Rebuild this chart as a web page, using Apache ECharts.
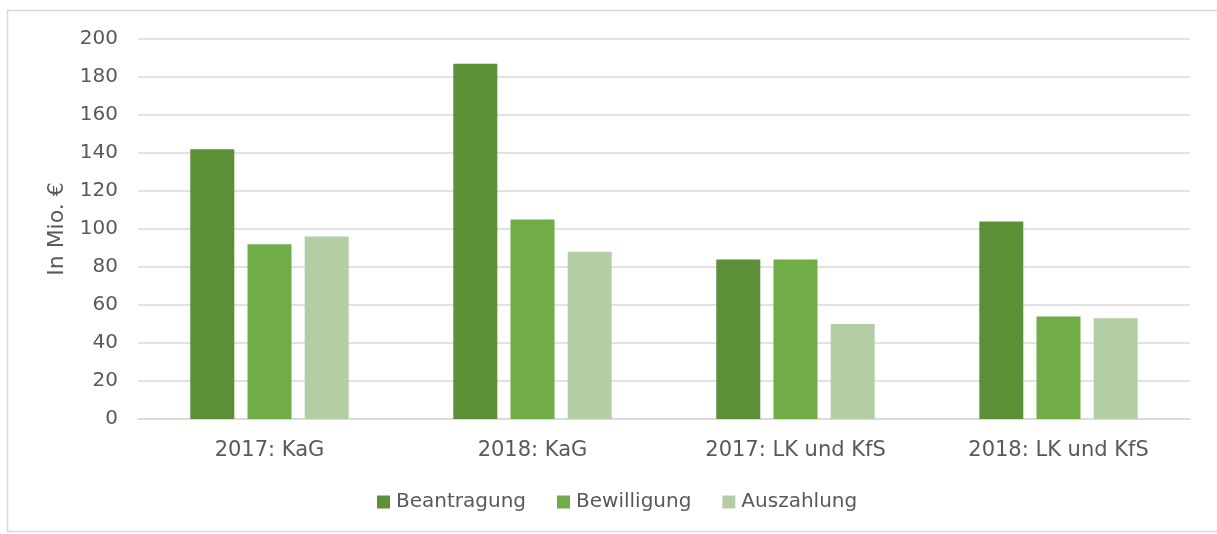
<!DOCTYPE html>
<html><head><meta charset="utf-8">
<script src="https://cdn.jsdelivr.net/npm/echarts@6/dist/echarts.min.js"></script>
<style>html,body{margin:0;padding:0;background:#fff}#c{width:1217px;height:534px}</style>
</head><body><div id="c"></div>
<script>
const categories = ['2017: KaG', '2018: KaG', '2017: LK und KfS', '2018: LK und KfS'];
const beantragung = [142, 187, 84, 104];
const bewilligung = [92, 105, 84, 54];
const auszahlung = [96, 88, 50, 53];
const seriesNames = ['Beantragung', 'Bewilligung', 'Auszahlung'];
const yTicks = [0, 200, 20];

const font = 'DejaVu Sans';
const txt = '#595959';
const chart = echarts.init(document.getElementById('c'), null, {renderer: 'canvas'});
const mk = (name, data, color) => ({
  name, type: 'bar', data, barWidth: 44, barGap: '30%',
  itemStyle: {color}
});
chart.setOption({
  animation: false,
  graphic: [{type: 'rect', shape: {x: 7.5, y: 10.5, width: 1240, height: 521}, style: {fill: 'none', stroke: '#d9d9d9', lineWidth: 1.5}, silent: true}],
  grid: {left: 138, right: 27, top: 39, bottom: 115},
  legend: {
    bottom: 17, left: 372, itemWidth: 13, itemHeight: 13, itemGap: 31,
    icon: 'rect',
    textStyle: {color: txt, fontFamily: font, fontSize: 20, padding: [0, 0, 0, 1]},
    data: seriesNames
  },
  xAxis: {
    type: 'category', data: categories,
    axisLine: {lineStyle: {color: '#d9d9d9', width: 1.5}},
    axisTick: {show: false},
    axisLabel: {color: txt, fontFamily: font, fontSize: 21, margin: 21}
  },
  yAxis: {
    type: 'value', min: yTicks[0], max: yTicks[1], interval: yTicks[2],
    name: 'In Mio. €', nameLocation: 'middle', nameGap: 70,
    nameTextStyle: {color: txt, fontFamily: font, fontSize: 22},
    axisLine: {show: false}, axisTick: {show: false},
    axisLabel: {color: txt, fontFamily: font, fontSize: 20, margin: 20},
    splitLine: {lineStyle: {color: '#d9d9d9', width: 1.5}}
  },
  series: [
    mk(seriesNames[0], beantragung, '#5b9037'),
    mk(seriesNames[1], bewilligung, '#70ad47'),
    mk(seriesNames[2], auszahlung, '#b3cda4')
  ]
});
</script></body></html>
